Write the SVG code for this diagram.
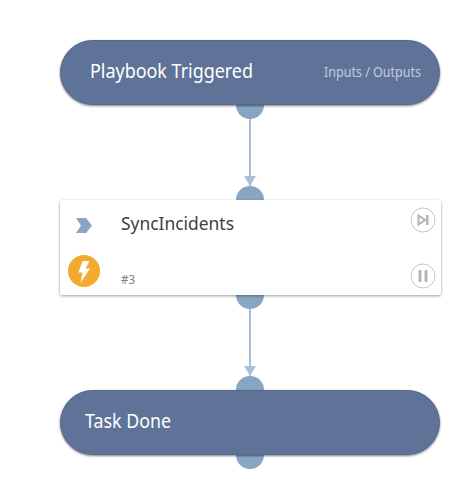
<svg xmlns="http://www.w3.org/2000/svg" width="450" height="479" viewBox="0 0 450 479">
<style>
text{font-family:"Noto Sans","Open Sans","Liberation Sans",sans-serif}
.port{fill:#88a5c3}
.pill{fill:#5f7399;stroke:#56698c;stroke-width:1;filter:url(#sh)}
.link{stroke:#a8bfd8;stroke-width:2;fill:none;marker-end:url(#arr)}
.title{fill:#fff;font-size:19px}
.btn{fill:#fff;stroke:#c6c6c6;stroke-width:1}
.glyph{fill:#b5b5b5}
</style>
<defs>
<filter id="sh" x="-5%" y="-15%" width="110%" height="130%"><feDropShadow dx="0" dy="1" stdDeviation="1.3" flood-color="#000" flood-opacity=".5"/></filter>
<filter id="cs" x="-5%" y="-10%" width="110%" height="120%"><feDropShadow dx="0" dy="1" stdDeviation="1.6" flood-color="#000" flood-opacity=".4"/></filter>
<marker id="arr" markerUnits="userSpaceOnUse" markerWidth="12" markerHeight="13" refX="10" refY="6.500" orient="auto"><path d="M0 0.500L10 6.500L0 12.500Z" fill="#a8bfd8"/></marker>
</defs>
<g id="connectors">
<path class="link" d="M250 119V186"/>
<path class="link" d="M250 309V376"/>
</g>
<g id="node-trigger">
<circle class="port" cx="250" cy="105" r="14"/>
<rect class="pill" x="60.500" y="40.500" width="379" height="64" rx="32"/>
<text class="title" x="90" y="77.500" textLength="163" lengthAdjust="spacingAndGlyphs">Playbook Triggered</text>
<text x="324" y="77" font-size="13.500" fill="#c3cbd9" textLength="97" lengthAdjust="spacingAndGlyphs">Inputs / Outputs</text>
</g>
<g id="node-sync">
<circle class="port" cx="250" cy="200" r="14"/>
<circle class="port" cx="250" cy="295" r="14"/>
<rect x="60" y="200" width="381" height="95" rx="3" fill="#fff" filter="url(#cs)"/>
<path class="port" d="M76 218H86L92 225.500L86 233H76L81 225.500Z"/>
<text x="121" y="229.500" font-size="18" fill="#404040" textLength="113" lengthAdjust="spacingAndGlyphs">SyncIncidents</text>
<circle cx="84" cy="271" r="16" fill="#f2ab2e"/>
<path d="M82.500 261H89.500L85.500 268.500H90L80.500 283L82.500 272.500H78.500Z" fill="#fff"/>
<text x="121" y="284" font-size="13" fill="#808080" textLength="14" lengthAdjust="spacingAndGlyphs">#3</text>
<circle class="btn" cx="423" cy="220" r="12"/>
<path d="M418.500 215.500V224.500L425 220Z" fill="none" stroke="#b5b5b5" stroke-width="2"/>
<rect class="glyph" x="426" y="215" width="2.500" height="10"/>
<circle class="btn" cx="423" cy="276" r="12"/>
<rect class="glyph" x="418.500" y="270" width="3" height="12" rx="1"/>
<rect class="glyph" x="424.500" y="270" width="3" height="12" rx="1"/>
</g>
<g id="node-done">
<circle class="port" cx="250" cy="390" r="14"/>
<circle class="port" cx="250" cy="455" r="14"/>
<rect class="pill" x="60.500" y="390.500" width="379" height="64" rx="32"/>
<text class="title" x="85" y="427.500" textLength="86" lengthAdjust="spacingAndGlyphs">Task Done</text>
</g>
</svg>
